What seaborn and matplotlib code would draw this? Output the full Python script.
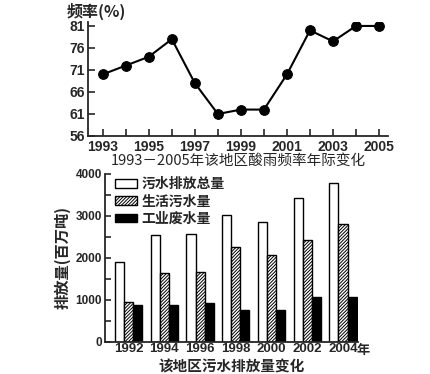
import pandas as pd
import matplotlib.pyplot as plt
import seaborn as sns
from matplotlib.patches import Patch
from matplotlib.ticker import MultipleLocator

# acid rain frequency (%) per year
years = [1993, 1994, 1995, 1996, 1997, 1998, 1999, 2000, 2001, 2002, 2003, 2004, 2005]
freq = [70, 72, 74, 78, 68, 61, 62, 62, 70, 80, 77.5, 81, 81]
year_labels = ['1993', '', '1995', '', '1997', '', '1999', '', '2001', '', '2003', '', '2005']
freq_ticks = [56, 61, 66, 71, 76, 81]

# wastewater discharge (million tons)
bar_years = ['1992', '1994', '1996', '1998', '2000', '2002', '2004']
series_names = ['污水排放总量', '生活污水量', '工业废水量']
total = [1900, 2540, 2570, 3030, 2860, 3430, 3780]
domestic = [960, 1640, 1660, 2260, 2060, 2430, 2820]
industrial = [880, 880, 940, 750, 750, 1080, 1080]

sns.set_theme(style="ticks")
plt.rcParams['font.family'] = ['Liberation Sans', 'Noto Sans CJK SC']
plt.rcParams['font.weight'] = 'bold'
plt.rcParams['hatch.color'] = '#888888'
plt.rcParams['hatch.linewidth'] = 0.7
plt.rcParams['axes.linewidth'] = 1.3

fig = plt.figure(figsize=(4.30, 3.74), dpi=100)
cjk = ['Noto Sans CJK SC', 'Liberation Sans']

# ---- top: line chart
ax1 = fig.add_axes([0.2047, 0.6364, 0.6977, 0.3048])
sns.lineplot(x=years, y=freq, ax=ax1, color='black', marker='o', markersize=7,
             markeredgecolor='black', linewidth=1.5)
ax1.set_xlim(1992.36, 2005.39)
ax1.set_ylim(56, 81.9)
ax1.set_xticks(years)
ax1.set_xticklabels(year_labels, fontsize=10, fontweight='bold')
ax1.set_yticks(freq_ticks)
ax1.set_yticklabels([str(t) for t in freq_ticks], fontsize=10, fontweight='bold')
ax1.tick_params(direction='in', length=5, width=1.2, pad=2)
ax1.tick_params(axis='x', pad=3)
sns.despine(ax=ax1)
ax1.text(-0.07, 1.02, '频率(%)', transform=ax1.transAxes, fontsize=11.5,
         fontweight='bold', family=cjk, va='bottom', ha='left')
ax1.set_xlabel('1993－2005年该地区酸雨频率年际变化', fontsize=10.5,
               family=cjk, fontweight='normal', labelpad=0)

# ---- bottom: grouped bars
df = pd.DataFrame({
    'year': bar_years * 3,
    'kind': [series_names[0]] * 7 + [series_names[1]] * 7 + [series_names[2]] * 7,
    'value': total + domestic + industrial,
})
ax2 = fig.add_axes([0.2442, 0.0856, 0.5884, 0.4492])
sns.barplot(data=df, x='year', y='value', hue='kind', hue_order=series_names,
            ax=ax2, width=0.76, gap=0, edgecolor='black', linewidth=1,
            palette=['white', 'white', 'black'], legend=False, saturation=1)
for bar in ax2.containers[1]:
    bar.set_hatch('/' * 10)
ax2.set_xlim(-0.66, 6.42)
ax2.set_ylim(0, 4000)
ax2.yaxis.set_major_locator(MultipleLocator(1000))
ax2.yaxis.set_minor_locator(MultipleLocator(500))
ax2.tick_params(axis='y', which='both', direction='in', length=4, width=1.2,
                labelsize=8.5, pad=2)
ax2.tick_params(axis='x', length=0, labelsize=9.5, pad=1)
for lab in ax2.get_xticklabels() + ax2.get_yticklabels():
    lab.set_fontweight('bold')
sns.despine(ax=ax2)
ax2.annotate('年', xy=(6, 0), xycoords='data', xytext=(10, -0.5),
             textcoords='offset points', va='top', ha='left', fontsize=9.5,
             family=cjk, fontweight='bold')
ax2.set_ylabel('排放量(百万吨)', fontsize=11, family=cjk, fontweight='bold', labelpad=4)
ax2.set_xlabel('该地区污水排放量变化', fontsize=10.5, family=cjk, fontweight='bold')
ax2.xaxis.set_label_coords(0.5, -0.1)

handles = [Patch(facecolor='white', edgecolor='black'),
           Patch(facecolor='white', edgecolor='black', hatch='/' * 10),
           Patch(facecolor='black', edgecolor='black')]
ax2.legend(handles, series_names, loc='upper left', bbox_to_anchor=(0.0, 1.04),
           frameon=False, handlelength=1.6, handleheight=0.6, labelspacing=0.25,
           handletextpad=0.3, borderpad=0.2,
           prop={'family': cjk, 'size': 10, 'weight': 'bold'})

fig.savefig('out.png', dpi=100)
